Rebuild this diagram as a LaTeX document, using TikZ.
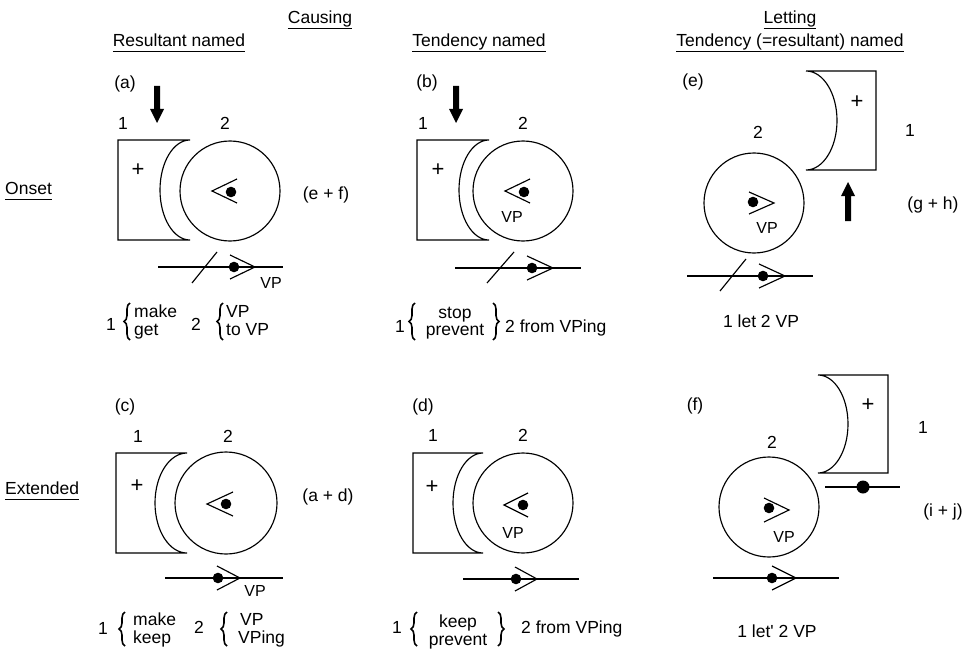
\documentclass[tikz,border=0pt]{standalone}
\usepackage{fontspec}
\setmainfont{Liberation Sans}
\usetikzlibrary{decorations.pathreplacing}
\tikzset{
  lw/.style={line width=1.15pt},
  txt/.style={inner sep=0pt, text height=12.5pt, text depth=0pt, font=\fontsize{17.5}{20}\selectfont},
  small/.style={inner sep=0pt, text height=11.5pt, text depth=0pt, font=\fontsize{16}{18}\selectfont},
  plus/.style={inner sep=0pt, font=\fontsize{22}{24}\selectfont},
  lbrace/.style={decorate, decoration={brace, amplitude=6pt, aspect=0.5}, line width=1.6pt},
}
\newcommand\hdr[1]{\underline{#1\vphantom{gy}}}
\begin{document}
\begin{tikzpicture}[x=1pt,y=-1pt]
\useasboundingbox (0,0) rectangle (966,650);

% headers
\node[txt] (causing) at (320,17) {\hdr{Causing}};
\node[txt] (resn) at (179,40) {\hdr{Resultant named}};
\node[txt] (tendn) at (479,40) {\hdr{Tendency named}};
\node[txt] (letting) at (790,17) {\hdr{Letting}};
\node[txt] (tendrn) at (790,40) {\hdr{Tendency (=resultant) named}};
\node[txt,anchor=west] (onset) at (5,188) {\hdr{Onset}};
\node[txt,anchor=west] (ext) at (5,488) {\hdr{Extended}};
\node[txt] (ef) at (326,193) {(e + f)};
\node[txt] (ad) at (328,495) {(a + d)};
\node[txt] (gh) at (933,203) {(g + h)};
\node[txt] (ij) at (943,510) {(i + j)};

% ---------- panel (a)
\node[txt] (la) at (125,82) {(a)};
\fill (154,86) -- (160,86) -- (160,109) -- (164,109) -- (157,123) -- (150,109) -- (154,109) -- cycle;
\node[txt] (a1) at (123,123) {1};
\node[txt] (a2) at (225,123) {2};
\draw[lw] (190,140) -- (118,140) -- (118,240) -- (190,240) arc[start angle=270,end angle=90,x radius=30pt,y radius=50pt];
\node[plus] (aplus) at (138,170) {+};
\draw[lw] (230,191) circle[radius=50pt];
\draw[lw] (237,179) -- (212,191) -- (237,203);
\fill (231,192) circle[radius=5.3pt];
\draw[lw] (158,267) -- (283,267);
\draw[lw] (192,283) -- (217,252);
\fill (234,267) circle[radius=5.3pt];
\draw[lw] (230,255) -- (255,267) -- (230,279);
\node[small] (avp) at (271,283) {VP};
% formula (a)
\node[txt] (af1) at (111,324) {1};
\draw[lbrace] (130,340) -- (130,303);
\node[txt,anchor=west] (afm) at (134,311) {make};
\node[txt,anchor=west] (afg) at (134,329) {get};
\node[txt] (af2) at (196,324) {2};
\draw[lbrace] (223,340) -- (223,303);
\node[txt,anchor=west] (afv) at (226,311) {VP};
\node[txt,anchor=west] (aft) at (226,329) {to VP};

% ---------- panel (b)
\node[txt] (lb) at (427,81) {(b)};
\fill (453,86) -- (459,86) -- (459,109) -- (463,109) -- (456,123) -- (449,109) -- (453,109) -- cycle;
\node[txt] (b1) at (423,123) {1};
\node[txt] (b2) at (523,123) {2};
\draw[lw] (489,140) -- (417,140) -- (417,240) -- (489,240) arc[start angle=270,end angle=90,x radius=30pt,y radius=50pt];
\node[plus] (bplus) at (438,170) {+};
\draw[lw] (523,191) circle[radius=50pt];
\draw[lw] (530,179) -- (505,191) -- (530,203);
\fill (524,192) circle[radius=5.3pt];
\node[small] (bvp) at (512,217) {VP};
\draw[lw] (455,268) -- (581,268);
\draw[lw] (487,283) -- (514,252);
\fill (532,268) circle[radius=5.3pt];
\draw[lw] (527,256) -- (553,268) -- (527,280);
% formula (b)
\node[txt] (bf1) at (400,326) {1};
\draw[lbrace] (415,340) -- (415,303);
\node[txt] (bfs) at (455,312) {stop};
\node[txt] (bfp) at (455,329) {prevent};
\draw[lbrace] (493,303) -- (493,340);
\node[txt,anchor=west] (bfr) at (505,326) {2 from VPing};

% ---------- panel (c)
\node[txt] (lc) at (125,405) {(c)};
\node[txt] (c1) at (138,436) {1};
\node[txt] (c2) at (228,436) {2};
\draw[lw] (187,453) -- (116,453) -- (116,553) -- (187,553) arc[start angle=270,end angle=90,x radius=32pt,y radius=50pt];
\node[plus] (cplus) at (137,486) {+};
\draw[lw] (226,503) circle[radius=51pt];
\draw[lw] (233,492) -- (207,504) -- (233,516);
\fill (226,504) circle[radius=5.3pt];
\draw[lw] (165,578) -- (283,578);
\fill (218,578) circle[radius=5.3pt];
\draw[lw] (217,566) -- (240,578) -- (217,590);
\node[small] (cvp) at (255,591) {VP};
% formula (c)
\node[txt] (cf1) at (103,628) {1};
\draw[lbrace] (125,646) -- (125,612);
\node[txt,anchor=west] (cfm) at (133,619) {make};
\node[txt,anchor=west] (cfk) at (133,637) {keep};
\node[txt] (cf2) at (199,627) {2};
\draw[lbrace] (227,646) -- (227,612);
\node[txt,anchor=west] (cfv) at (240,619) {VP};
\node[txt,anchor=west] (cfi) at (238,637) {VPing};

% ---------- panel (d)
\node[txt] (ld) at (423,405) {(d)};
\node[txt] (d1) at (433,435) {1};
\node[txt] (d2) at (523,435) {2};
\draw[lw] (483,453) -- (413,453) -- (413,553) -- (483,553) arc[start angle=270,end angle=90,x radius=30pt,y radius=50pt];
\node[plus] (dplus) at (432,487) {+};
\draw[lw] (523,503) circle[radius=50pt];
\draw[lw] (528,493) -- (504,505) -- (528,517);
\fill (523,505) circle[radius=5.3pt];
\node[small] (dvp) at (513,533) {VP};
\draw[lw] (463,579) -- (579,579);
\fill (516,579) circle[radius=5.3pt];
\draw[lw] (515,567) -- (537,579) -- (515,591);
% formula (d)
\node[txt] (df1) at (397,627) {1};
\draw[lbrace] (417,646) -- (417,612);
\node[txt] (dfk) at (458,621) {keep};
\node[txt] (dfp) at (458,639) {prevent};
\draw[lbrace] (498,612) -- (498,646);
\node[txt,anchor=west] (dfr) at (521,627) {2 from VPing};

% ---------- panel (e)
\node[txt] (le) at (693,80) {(e)};
\draw[lw] (806,71) -- (876,71) -- (876,170) -- (806,170) arc[start angle=270,end angle=450,x radius=31pt,y radius=49.5pt];
\node[plus] (eplus) at (857,102) {+};
\node[txt] (e1) at (910,130) {1};
\node[txt] (e2) at (758,132) {2};
\draw[lw] (754,203) circle[radius=50pt];
\draw[lw] (749,192) -- (774,203) -- (749,214);
\fill (753,202) circle[radius=5.3pt];
\node[small] (evp) at (767,228) {VP};
\fill (845,221) -- (851,221) -- (851,196) -- (855,196) -- (848,182) -- (841,196) -- (845,196) -- cycle;
\draw[lw] (687,276) -- (813,276);
\draw[lw] (720,291) -- (746,259);
\fill (763,276) circle[radius=5.3pt];
\draw[lw] (759,264) -- (785,276) -- (759,288);
\node[txt] (elet) at (761,321) {1 let 2 VP};

% ---------- panel (f)
\node[txt] (lf) at (695,404) {(f)};
\draw[lw] (818,375) -- (888,375) -- (888,473) -- (818,473) arc[start angle=270,end angle=450,x radius=30pt,y radius=49pt];
\node[plus] (fplus) at (868,405) {+};
\node[txt] (f1) at (923,427) {1};
\node[txt] (f2) at (772,442) {2};
\draw[lw] (769,507) circle[radius=50pt];
\draw[lw] (764,498) -- (789,510) -- (764,522);
\fill (769,508) circle[radius=5.3pt];
\node[small] (fvp) at (784,537) {VP};
\draw[lw] (825,487) -- (900,487);
\fill (863,487) circle[radius=6.5pt];
\draw[lw] (713,578) -- (839,578);
\fill (772,578) circle[radius=5.3pt];
\draw[lw] (772,566) -- (796,578) -- (772,590);
\node[txt] (flet) at (777,631) {1 let\textquotesingle\ 2 VP};
\end{tikzpicture}
\end{document}
